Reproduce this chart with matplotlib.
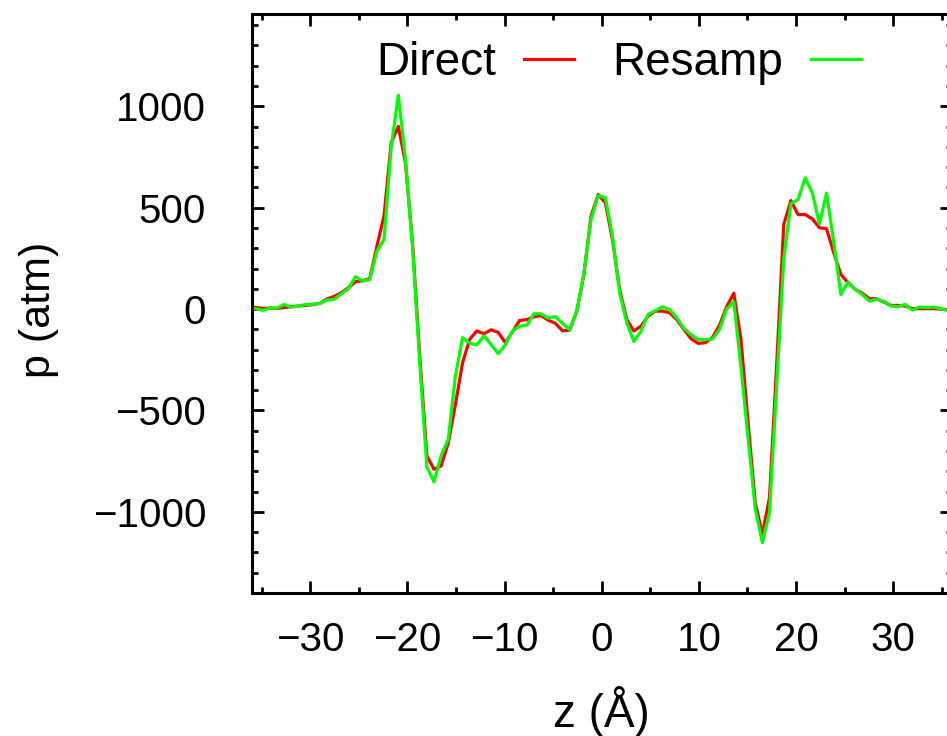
import numpy as np
import matplotlib
matplotlib.use("Agg")
import matplotlib.pyplot as plt

plt.rcParams['font.family'] = ['Liberation Sans', 'DejaVu Sans']

# bin centres: 98 bins across a 72 Å box
box_length = 72.0
n_bins = 98
z = -box_length / 2 + (np.arange(n_bins) + 0.5) * box_length / n_bins

direct = [8, 3, 5, 3, 8, 12, 15, 18, 22, 28,
          50, 62, 80, 105, 135, 140, 150, 310, 460, 820,
          901, 721, 320, -230, -724, -790, -773, -660, -470, -265,
          -149, -108, -122, -102, -115, -166, -112, -56, -52, -38,
          -32, -55, -70, -107, -104, -10, 170, 458, 565, 524,
          343, 97, -51, -108, -84, -34, -10, -10, -18, -51,
          -100, -146, -169, -166, -141, -80, 12, 78, -149, -560,
          -955, -1110, -930, -280, 417, 535, 466, 466, 445, 401,
          396, 278, 171, 130, 97, 78, 51, 51, 35, 18,
          18, 15, 2, 2, 2, 2, 0, -3]

resamp = [2, -6, 5, 5, 23, 10, 15, 22, 24, 27,
          45, 48, 75, 100, 160, 138, 146, 286, 343, 800,
          1055, 740, 300, -264, -778, -852, -722, -642, -330, -141,
          -168, -177, -132, -175, -220, -175, -108, -84, -80, -23,
          -23, -45, -37, -70, -102, -12, 179, 442, 560, 549,
          360, 81, -67, -160, -108, -26, -8, 11, -3, -42,
          -95, -125, -150, -150, -148, -100, 0, 37, -285, -635,
          -985, -1151, -1003, -380, 250, 520, 540, 647, 573, 420,
          572, 330, 72, 133, 97, 72, 39, 48, 39, 15,
          12, 23, -5, 10, 7, 10, 2, -8]

xticks = [-30, -20, -10, 0, 10, 20, 30]
yticks = [-1000, -500, 0, 500, 1000]

fig = plt.figure(figsize=(9.47, 7.36), dpi=100)
ax = fig.add_axes([252/947, 143/736, 699.5/947, 579/736])

ax.plot(z, direct, color='#ff0000', lw=2.3, label='Direct')
ax.plot(z, resamp, color='#00ff00', lw=2.3, label='Resamp')

ax.set_xlim(-36, 36)
ax.set_ylim(-1400, 1455)
ax.set_xticks(xticks)
ax.set_yticks(yticks)
ax.set_xticks(np.arange(-35, 36, 5), minor=True)
ax.set_yticks(np.arange(-1400, 1401, 100), minor=True)

for s in ax.spines.values():
    s.set_linewidth(2.2)
ax.tick_params(which='both', direction='in', top=True, right=True, width=2.0, labelsize=29)
ax.tick_params(which='major', length=8.5)
ax.tick_params(which='minor', length=4.3)
ax.tick_params(axis='y', which='major', pad=33)
ax.tick_params(axis='x', which='major', pad=20)

ax.set_xlabel('z (Å)', fontsize=33)
ax.set_ylabel('p (atm)', fontsize=31)
ax.xaxis.set_label_coords(0.499, -0.2055)
ax.xaxis.label.set_va('center')
ax.yaxis.set_label_coords(-0.305, 0.489)
ax.yaxis.label.set_va('center')

ax.legend(loc='center', bbox_to_anchor=(0.524, 0.915), ncol=2, markerfirst=False,
          frameon=False, fontsize=33, handlelength=1.09, handletextpad=0.61,
          columnspacing=0.85, borderpad=0, borderaxespad=0)

fig.savefig('out.png', dpi=100)
